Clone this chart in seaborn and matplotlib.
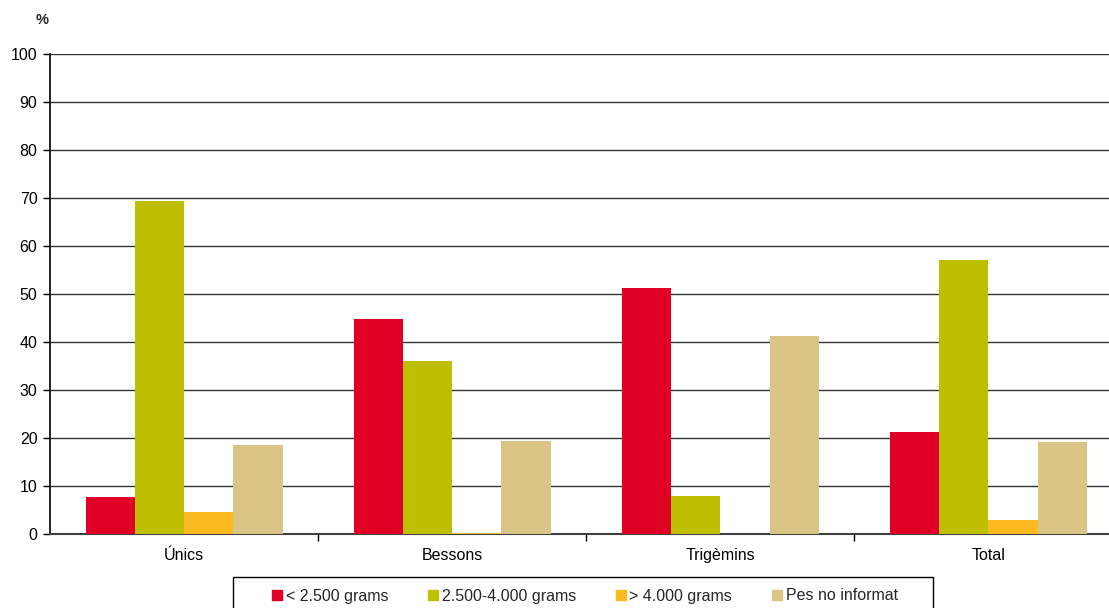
import numpy as np
import pandas as pd
import matplotlib
matplotlib.use("Agg")
import matplotlib.pyplot as plt
import seaborn as sns

# data (percent)
groups = ["Únics", "Bessons", "Trigèmins", "Total"]
series = ["< 2.500 grams", "2.500-4.000 grams", "> 4.000 grams", "Pes no informat"]
low_weight = [7.7, 44.8, 51.2, 21.2]
normal_weight = [69.4, 36.0, 7.9, 57.1]
high_weight = [4.6, 0.3, 0.0, 2.9]
not_reported = [18.5, 19.4, 41.2, 19.2]
colors = ["#E00025", "#BDBF00", "#FBBA20", "#D9C486"]

df = pd.DataFrame({
    "grup": groups * 4,
    "serie": np.repeat(series, len(groups)),
    "valor": low_weight + normal_weight + high_weight + not_reported,
})

sns.set_theme(style="white")
plt.rcParams["font.family"] = ["Liberation Sans", "DejaVu Sans"]

W, H = 1109, 608
fig = plt.figure(figsize=(W / 100, H / 100), dpi=100)
ax = fig.add_axes([50 / W, 74 / H, 1059 / W, 480 / H])

sns.barplot(data=df, x="grup", y="valor", hue="serie", palette=colors,
            width=0.735, ax=ax, saturation=1, legend=False, linewidth=0,
            zorder=3)

ax.set_ylim(0, 100)
ax.set_xlim(-0.5, 3.45)
ax.set_yticks(range(0, 101, 10))
ax.yaxis.grid(True, color="#333333", linewidth=1, zorder=0)
ax.set_axisbelow(True)
ax.set_xlabel("")
ax.set_ylabel("")
ax.tick_params(axis="both", labelsize=11.5, colors="black")
ax.tick_params(axis="y", length=5, width=1, direction="out", left=True, pad=4)
ax.tick_params(axis="x", length=0, pad=10)
for s in ["top", "right"]:
    ax.spines[s].set_visible(False)
ax.spines["left"].set_color("black")
ax.spines["left"].set_linewidth(1.2)
ax.spines["bottom"].set_color("#404040")
ax.spines["bottom"].set_linewidth(1.5)
ax.set_xticks([0, 1, 2, 3], minor=False)
ax.set_xticks([0.5, 1.5, 2.5], minor=True)
ax.tick_params(axis="x", which="minor", length=5, width=1, direction="out",
               bottom=True, color="black")

fig.text(42 / W, 1 - 20 / H, "%", fontsize=10.5, fontweight="bold",
         ha="center", va="center")

# legend frame drawn separately, legend entries placed inside it
frame = plt.Rectangle((233 / W, -0.01), 700 / W, 1 - 577 / H + 0.01,
                      transform=fig.transFigure, facecolor="white",
                      edgecolor="black", linewidth=1, zorder=1)
fig.patches.append(frame)

handles = [plt.Rectangle((0, 0), 1, 1, color=c) for c in colors]
leg = fig.legend(handles, series, loc="center left", ncol=4,
                 bbox_to_anchor=(272 / W, 1 - 596 / H),
                 frameon=False, fontsize=11.5,
                 handlelength=0.65, handleheight=0.65, handletextpad=0.2,
                 columnspacing=2.5, borderpad=0, borderaxespad=0)

fig.savefig("out.png", dpi=100)
